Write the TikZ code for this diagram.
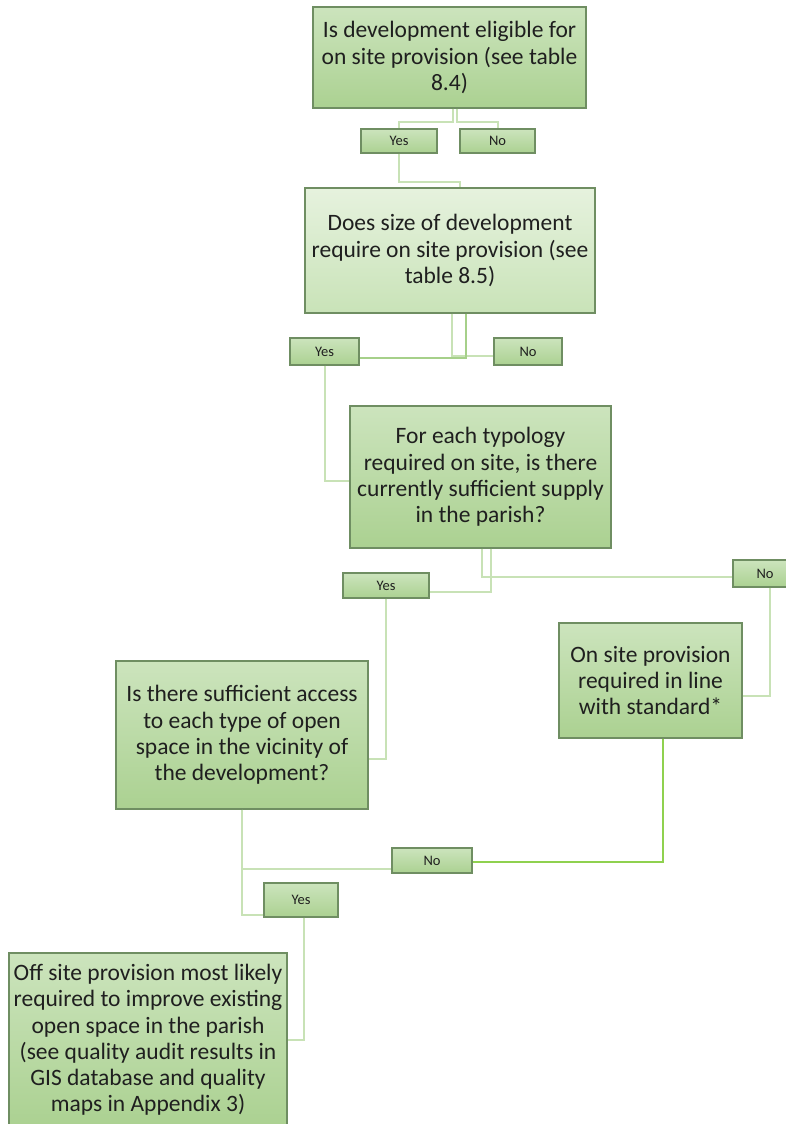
\documentclass[tikz,border=0pt]{standalone}
\usepackage{fontspec}
\setmainfont{Carlito}
\definecolor{boxborder}{HTML}{6F8E62}
\definecolor{gtop}{HTML}{CCE4BD}
\definecolor{gbot}{HTML}{ABD191}
\definecolor{ltop}{HTML}{E6F2DE}
\definecolor{lbot}{HTML}{C9E3B8}
\definecolor{txt}{HTML}{1F1F1F}
\definecolor{clight}{HTML}{C8E2B6}
\definecolor{cmid}{HTML}{A6D08A}
\definecolor{cbright}{HTML}{8FD14F}
\begin{document}
\begin{tikzpicture}[x=1pt,y=-1pt,
  box/.style={draw=boxborder, line width=1.1pt, top color=gtop, bottom color=gbot,
    align=center, inner sep=0pt, text=txt, font=\fontsize{23.5}{26.2}\selectfont},
  lbox/.style={box, top color=ltop, bottom color=lbot},
  ans/.style={box, font=\fontsize{14.5}{16}\selectfont},
  conn/.style={draw=clight, line width=2pt},
  connmid/.style={draw=cmid, line width=2pt},
  connbright/.style={draw=cbright, line width=2pt}]
\useasboundingbox (0,0) rectangle (786,1124);
\fill[white] (0,0) rectangle (786,1124);

\node[box, minimum width=273, minimum height=101] (b1) at (449.5,57.5)
  {Is development eligible for\\on site provision (see table\\8.4)};
\node[ans, minimum width=76, minimum height=24] (y1) at (399,141) {Yes};
\node[ans, minimum width=75, minimum height=24] (n1) at (497.5,141) {No};
\node[lbox, minimum width=290, minimum height=125] (b2) at (450,250.5)
  {Does size of development\\require on site provision (see\\table 8.5)};
\node[ans, minimum width=69, minimum height=27] (y2) at (324.5,351.5) {Yes};
\node[ans, minimum width=68, minimum height=27] (n2) at (528,351.5) {No};
\node[box, minimum width=261, minimum height=142] (b3) at (480.5,477)
  {For each typology\\required on site, is there\\currently sufficient supply\\in the parish?};
\node[ans, minimum width=86, minimum height=25] (y3) at (386,585.5) {Yes};
\node[ans, minimum width=64, minimum height=27] (n3) at (765,573.5) {No};
\node[box, minimum width=183, minimum height=115] (b4) at (650.5,680.5)
  {On site provision\\required in line\\with standard*};
\node[box, minimum width=252, minimum height=148] (b5) at (242,735)
  {Is there sufficient access\\to each type of open\\space in the vicinity of\\the development?};
\node[ans, minimum width=80, minimum height=25] (n4) at (432,860.5) {No};
\node[ans, minimum width=74, minimum height=34] (y4) at (301,900) {Yes};
\node[box, minimum width=278, minimum height=174] (b6) at (148,1040)
  {Off site provision most likely\\required to improve existing\\open space in the parish\\(see quality audit results in\\GIS database and quality\\maps in Appendix 3)};

% note: yshift is in canvas units (positive = up), so downward offsets are negative
\draw[conn] ([xshift=3]b1.south) -- ++(0,13) -| (y1.north);
\draw[conn] ([xshift=7]b1.south) -- ++(0,13) -| (n1.north);
\draw[conn] (y1.south) -- ++(0,28) -| ([xshift=10]b2.north);
\draw[conn] ([xshift=2]b2.south) |- ([yshift=-4.5]n2.west);
\draw[connmid] ([xshift=16]b2.south) |- ([yshift=-6]y2.east);
\draw[conn] (y2.south) |- ([yshift=-4]b3.west);
\draw[conn] ([xshift=10.5]b3.south) |- ([yshift=-6.5]y3.east);
\draw[conn] ([xshift=1.5]b3.south) |- ([yshift=-3.5]n3.west);
\draw[conn] ([xshift=5]n3.south) |- ([yshift=-15.5]b4.east);
\draw[conn] (y3.south) |- ([yshift=-24]b5.east);
\draw[connbright] ([xshift=12.5]b4.south) |- ([yshift=-1.5]n4.east);
\draw[conn] (b5.south) |- ([yshift=-8.5]n4.west);
\draw[conn] (b5.south) |- ([yshift=-15]y4.west);
\draw[conn] ([xshift=3]y4.south) |- (b6.east);
\end{tikzpicture}
\end{document}
